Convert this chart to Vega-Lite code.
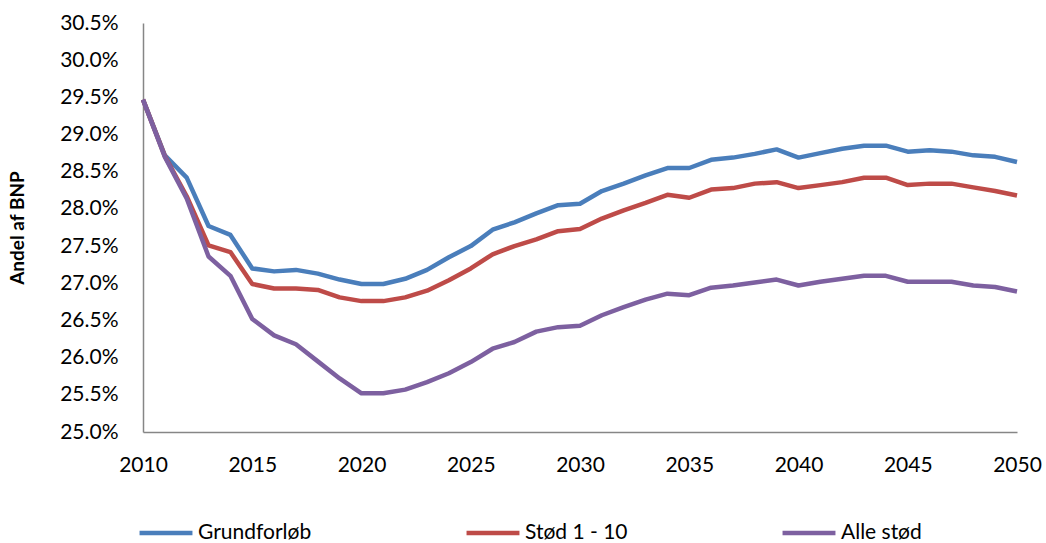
{
  "$schema": "https://vega.github.io/schema/vega-lite/v6.json",
  "width": 874,
  "height": 409,
  "autosize": {"type": "none"},
  "padding": {"left": 143, "top": 23, "right": 29, "bottom": 111},
  "background": "white",
  "config": {
    "font": "Lato",
    "view": {"stroke": null},
    "axis": {"labelFont": "Lato", "labelFontSize": 21, "labelColor": "#000000", "titleFont": "Lato", "grid": false, "ticks": false, "domainColor": "#868686", "domainWidth": 1.5}
  },
  "datasets": {
    "d": [
      {"year": 2010, "s": "Grundforløb", "v": 0.2947}, {"year": 2010, "s": "Stød 1 - 10", "v": 0.2947}, {"year": 2010, "s": "Alle stød", "v": 0.2947},
      {"year": 2011, "s": "Grundforløb", "v": 0.2872}, {"year": 2011, "s": "Stød 1 - 10", "v": 0.2871}, {"year": 2011, "s": "Alle stød", "v": 0.2870},
      {"year": 2012, "s": "Grundforløb", "v": 0.2842}, {"year": 2012, "s": "Stød 1 - 10", "v": 0.2817}, {"year": 2012, "s": "Alle stød", "v": 0.2814},
      {"year": 2013, "s": "Grundforløb", "v": 0.2777}, {"year": 2013, "s": "Stød 1 - 10", "v": 0.2751}, {"year": 2013, "s": "Alle stød", "v": 0.2736},
      {"year": 2014, "s": "Grundforløb", "v": 0.2765}, {"year": 2014, "s": "Stød 1 - 10", "v": 0.2742}, {"year": 2014, "s": "Alle stød", "v": 0.2710},
      {"year": 2015, "s": "Grundforløb", "v": 0.2720}, {"year": 2015, "s": "Stød 1 - 10", "v": 0.2699}, {"year": 2015, "s": "Alle stød", "v": 0.2652},
      {"year": 2016, "s": "Grundforløb", "v": 0.2716}, {"year": 2016, "s": "Stød 1 - 10", "v": 0.2693}, {"year": 2016, "s": "Alle stød", "v": 0.2630},
      {"year": 2017, "s": "Grundforløb", "v": 0.2718}, {"year": 2017, "s": "Stød 1 - 10", "v": 0.2693}, {"year": 2017, "s": "Alle stød", "v": 0.2618},
      {"year": 2018, "s": "Grundforløb", "v": 0.2713}, {"year": 2018, "s": "Stød 1 - 10", "v": 0.2691}, {"year": 2018, "s": "Alle stød", "v": 0.2595},
      {"year": 2019, "s": "Grundforløb", "v": 0.2705}, {"year": 2019, "s": "Stød 1 - 10", "v": 0.2681}, {"year": 2019, "s": "Alle stød", "v": 0.2572},
      {"year": 2020, "s": "Grundforløb", "v": 0.2699}, {"year": 2020, "s": "Stød 1 - 10", "v": 0.2676}, {"year": 2020, "s": "Alle stød", "v": 0.2552},
      {"year": 2021, "s": "Grundforløb", "v": 0.2699}, {"year": 2021, "s": "Stød 1 - 10", "v": 0.2676}, {"year": 2021, "s": "Alle stød", "v": 0.2552},
      {"year": 2022, "s": "Grundforløb", "v": 0.2706}, {"year": 2022, "s": "Stød 1 - 10", "v": 0.2681}, {"year": 2022, "s": "Alle stød", "v": 0.2557},
      {"year": 2023, "s": "Grundforløb", "v": 0.2718}, {"year": 2023, "s": "Stød 1 - 10", "v": 0.2690}, {"year": 2023, "s": "Alle stød", "v": 0.2567},
      {"year": 2024, "s": "Grundforløb", "v": 0.2735}, {"year": 2024, "s": "Stød 1 - 10", "v": 0.2704}, {"year": 2024, "s": "Alle stød", "v": 0.2579},
      {"year": 2025, "s": "Grundforløb", "v": 0.2750}, {"year": 2025, "s": "Stød 1 - 10", "v": 0.2720}, {"year": 2025, "s": "Alle stød", "v": 0.2594},
      {"year": 2026, "s": "Grundforløb", "v": 0.2772}, {"year": 2026, "s": "Stød 1 - 10", "v": 0.2739}, {"year": 2026, "s": "Alle stød", "v": 0.2612},
      {"year": 2027, "s": "Grundforløb", "v": 0.2782}, {"year": 2027, "s": "Stød 1 - 10", "v": 0.2750}, {"year": 2027, "s": "Alle stød", "v": 0.2621},
      {"year": 2028, "s": "Grundforløb", "v": 0.2794}, {"year": 2028, "s": "Stød 1 - 10", "v": 0.2759}, {"year": 2028, "s": "Alle stød", "v": 0.2635},
      {"year": 2029, "s": "Grundforløb", "v": 0.2805}, {"year": 2029, "s": "Stød 1 - 10", "v": 0.2770}, {"year": 2029, "s": "Alle stød", "v": 0.2641},
      {"year": 2030, "s": "Grundforløb", "v": 0.2807}, {"year": 2030, "s": "Stød 1 - 10", "v": 0.2773}, {"year": 2030, "s": "Alle stød", "v": 0.2643},
      {"year": 2031, "s": "Grundforløb", "v": 0.2824}, {"year": 2031, "s": "Stød 1 - 10", "v": 0.2787}, {"year": 2031, "s": "Alle stød", "v": 0.2657},
      {"year": 2032, "s": "Grundforløb", "v": 0.2834}, {"year": 2032, "s": "Stød 1 - 10", "v": 0.2798}, {"year": 2032, "s": "Alle stød", "v": 0.2668},
      {"year": 2033, "s": "Grundforløb", "v": 0.2845}, {"year": 2033, "s": "Stød 1 - 10", "v": 0.2808}, {"year": 2033, "s": "Alle stød", "v": 0.2678},
      {"year": 2034, "s": "Grundforløb", "v": 0.2855}, {"year": 2034, "s": "Stød 1 - 10", "v": 0.2819}, {"year": 2034, "s": "Alle stød", "v": 0.2686},
      {"year": 2035, "s": "Grundforløb", "v": 0.2855}, {"year": 2035, "s": "Stød 1 - 10", "v": 0.2815}, {"year": 2035, "s": "Alle stød", "v": 0.2684},
      {"year": 2036, "s": "Grundforløb", "v": 0.2866}, {"year": 2036, "s": "Stød 1 - 10", "v": 0.2826}, {"year": 2036, "s": "Alle stød", "v": 0.2694},
      {"year": 2037, "s": "Grundforløb", "v": 0.2869}, {"year": 2037, "s": "Stød 1 - 10", "v": 0.2828}, {"year": 2037, "s": "Alle stød", "v": 0.2697},
      {"year": 2038, "s": "Grundforløb", "v": 0.2874}, {"year": 2038, "s": "Stød 1 - 10", "v": 0.2834}, {"year": 2038, "s": "Alle stød", "v": 0.2701},
      {"year": 2039, "s": "Grundforløb", "v": 0.2880}, {"year": 2039, "s": "Stød 1 - 10", "v": 0.2836}, {"year": 2039, "s": "Alle stød", "v": 0.2705},
      {"year": 2040, "s": "Grundforløb", "v": 0.2869}, {"year": 2040, "s": "Stød 1 - 10", "v": 0.2828}, {"year": 2040, "s": "Alle stød", "v": 0.2697},
      {"year": 2041, "s": "Grundforløb", "v": 0.2875}, {"year": 2041, "s": "Stød 1 - 10", "v": 0.2832}, {"year": 2041, "s": "Alle stød", "v": 0.2702},
      {"year": 2042, "s": "Grundforløb", "v": 0.2881}, {"year": 2042, "s": "Stød 1 - 10", "v": 0.2836}, {"year": 2042, "s": "Alle stød", "v": 0.2706},
      {"year": 2043, "s": "Grundforløb", "v": 0.2885}, {"year": 2043, "s": "Stød 1 - 10", "v": 0.2842}, {"year": 2043, "s": "Alle stød", "v": 0.2710},
      {"year": 2044, "s": "Grundforløb", "v": 0.2885}, {"year": 2044, "s": "Stød 1 - 10", "v": 0.2842}, {"year": 2044, "s": "Alle stød", "v": 0.2710},
      {"year": 2045, "s": "Grundforløb", "v": 0.2877}, {"year": 2045, "s": "Stød 1 - 10", "v": 0.2832}, {"year": 2045, "s": "Alle stød", "v": 0.2702},
      {"year": 2046, "s": "Grundforløb", "v": 0.2879}, {"year": 2046, "s": "Stød 1 - 10", "v": 0.2834}, {"year": 2046, "s": "Alle stød", "v": 0.2702},
      {"year": 2047, "s": "Grundforløb", "v": 0.2877}, {"year": 2047, "s": "Stød 1 - 10", "v": 0.2834}, {"year": 2047, "s": "Alle stød", "v": 0.2702},
      {"year": 2048, "s": "Grundforløb", "v": 0.2872}, {"year": 2048, "s": "Stød 1 - 10", "v": 0.2829}, {"year": 2048, "s": "Alle stød", "v": 0.2697},
      {"year": 2049, "s": "Grundforløb", "v": 0.2870}, {"year": 2049, "s": "Stød 1 - 10", "v": 0.2824}, {"year": 2049, "s": "Alle stød", "v": 0.2695},
      {"year": 2050, "s": "Grundforløb", "v": 0.2863}, {"year": 2050, "s": "Stød 1 - 10", "v": 0.2818}, {"year": 2050, "s": "Alle stød", "v": 0.2689}
    ]
  },
  "data": {"name": "d"},
  "mark": {"type": "line", "strokeWidth": 4.5, "strokeJoin": "round"},
  "encoding": {
    "x": {
      "field": "year", "type": "quantitative",
      "scale": {"domain": [2010, 2050], "nice": false, "zero": false},
      "axis": {"title": null, "values": [2010, 2015, 2020, 2025, 2030, 2035, 2040, 2045, 2050], "format": "d", "labelPadding": 22, "labelFlush": false, "labelOverlap": false}
    },
    "y": {
      "field": "v", "type": "quantitative",
      "scale": {"domain": [0.25, 0.305], "nice": false, "zero": false},
      "axis": {"title": "Andel af BNP", "titleFontSize": 19, "titleFontWeight": "bold", "titlePadding": 32, "values": [0.25, 0.255, 0.26, 0.265, 0.27, 0.275, 0.28, 0.285, 0.29, 0.295, 0.3, 0.305], "format": ".1%", "labelPadding": 25}
    },
    "color": {
      "field": "s", "type": "nominal",
      "scale": {"domain": ["Grundforløb", "Stød 1 - 10", "Alle stød"], "range": ["#4A7EBB", "#BE4B48", "#7D60A0"]},
      "legend": {
        "title": null, "orient": "none", "direction": "horizontal", "columns": 3,
        "legendX": -6, "legendY": 481,
        "symbolType": "stroke", "symbolSize": 2800, "symbolStrokeWidth": 4.5,
        "labelFontSize": 21, "labelFont": "Lato", "labelColor": "#000000", "labelOffset": 3,
        "columnPadding": 145
      }
    }
  }
}
